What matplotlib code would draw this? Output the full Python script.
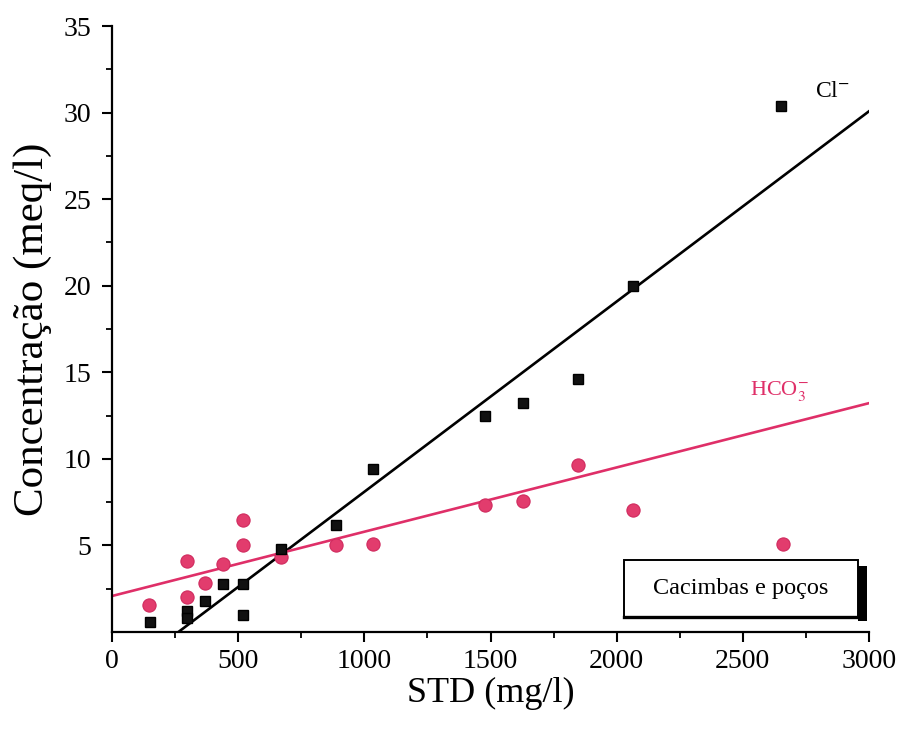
import numpy as np
import matplotlib
matplotlib.use("Agg")
import matplotlib.pyplot as plt
from matplotlib.patches import Rectangle

plt.rcParams['font.family'] = ['Liberation Serif', 'DejaVu Serif']
plt.rcParams['mathtext.fontset'] = 'stix'

# STD (mg/l) vs concentration (meq/l)
std_cl = [150, 298, 298, 368, 438, 520, 520, 670, 887, 1035, 1478, 1630, 1845, 2065, 2650]
cl = [0.6, 1.2, 0.8, 1.8, 2.8, 2.8, 1.0, 4.8, 6.2, 9.4, 12.5, 13.2, 14.6, 20.0, 30.4]

std_hco3 = [148, 298, 298, 368, 438, 520, 520, 670, 887, 1035, 1478, 1630, 1845, 2065, 2660]
hco3 = [1.55, 2.05, 4.1, 2.85, 3.95, 5.0, 6.45, 4.35, 5.0, 5.1, 7.35, 7.55, 9.65, 7.05, 5.1]

# linear trends (slope, intercept)
fit_cl = (0.010989, -2.89)
fit_hco3 = (0.003713, 2.08)

pink = '#df2f68'

fig = plt.figure(figsize=(9.01, 7.35), dpi=100)
ax = fig.add_axes([0.1243, 0.1401, 0.8402, 0.8245])

xs = np.array([0, 3000])
ax.plot(xs, fit_cl[0] * xs + fit_cl[1], color='black', lw=1.9, zorder=2)
ax.plot(xs, fit_hco3[0] * xs + fit_hco3[1], color=pink, lw=1.9, zorder=2)

ax.plot(std_hco3, hco3, 'o', ms=9.5, color='#e23c6d', mec='#d02a5e', mew=0.8, zorder=3)
ax.plot(std_cl, cl, 's', ms=7.8, color='#111111', mec='black', zorder=4)

ax.text(2785, 31.2, r'Cl$^{-}$', fontsize=17, va='center', ha='left')
ax.text(2530, 13.9, r'HCO$_{3}^{-}$', fontsize=16, va='center', ha='left', color=pink)

# boxed label with drop shadow
ax.add_patch(Rectangle((2956, 0.63), 36, 3.2, facecolor='black', edgecolor='none',
                       clip_on=False, zorder=5))
ax.add_patch(Rectangle((2028, 0.87), 928, 3.29, facecolor='white', edgecolor='black',
                       lw=1.4, clip_on=False, zorder=6))
ax.plot([2028, 2975], [0.87, 0.87], color='black', lw=2.4, clip_on=False, zorder=7)
ax.text(2492, 2.5, 'Cacimbas e poços', fontsize=17.5, ha='center', va='center', zorder=8)

ax.set_xlim(0, 3000)
ax.set_ylim(0, 35)
ax.set_xticks(np.arange(0, 3001, 500))
ax.set_xticks(np.arange(250, 3000, 500), minor=True)
ax.set_yticks(np.arange(5, 36, 5))
ax.set_yticks(np.arange(2.5, 35, 5), minor=True)

for s in ['top', 'right']:
    ax.spines[s].set_visible(False)
for s in ['left', 'bottom']:
    ax.spines[s].set_linewidth(1.6)

ax.tick_params(which='major', direction='out', length=7, width=1.5, labelsize=20)
ax.tick_params(which='minor', direction='out', length=4, width=1.3)
ax.tick_params(axis='x', pad=5)
ax.tick_params(axis='y', pad=8)

ax.set_xlabel('STD (mg/l)', fontsize=26, labelpad=2)
ax.set_ylabel('Concentração (meq/l)', fontsize=31, labelpad=8)

fig.savefig('out.png', dpi=100, facecolor='white')
